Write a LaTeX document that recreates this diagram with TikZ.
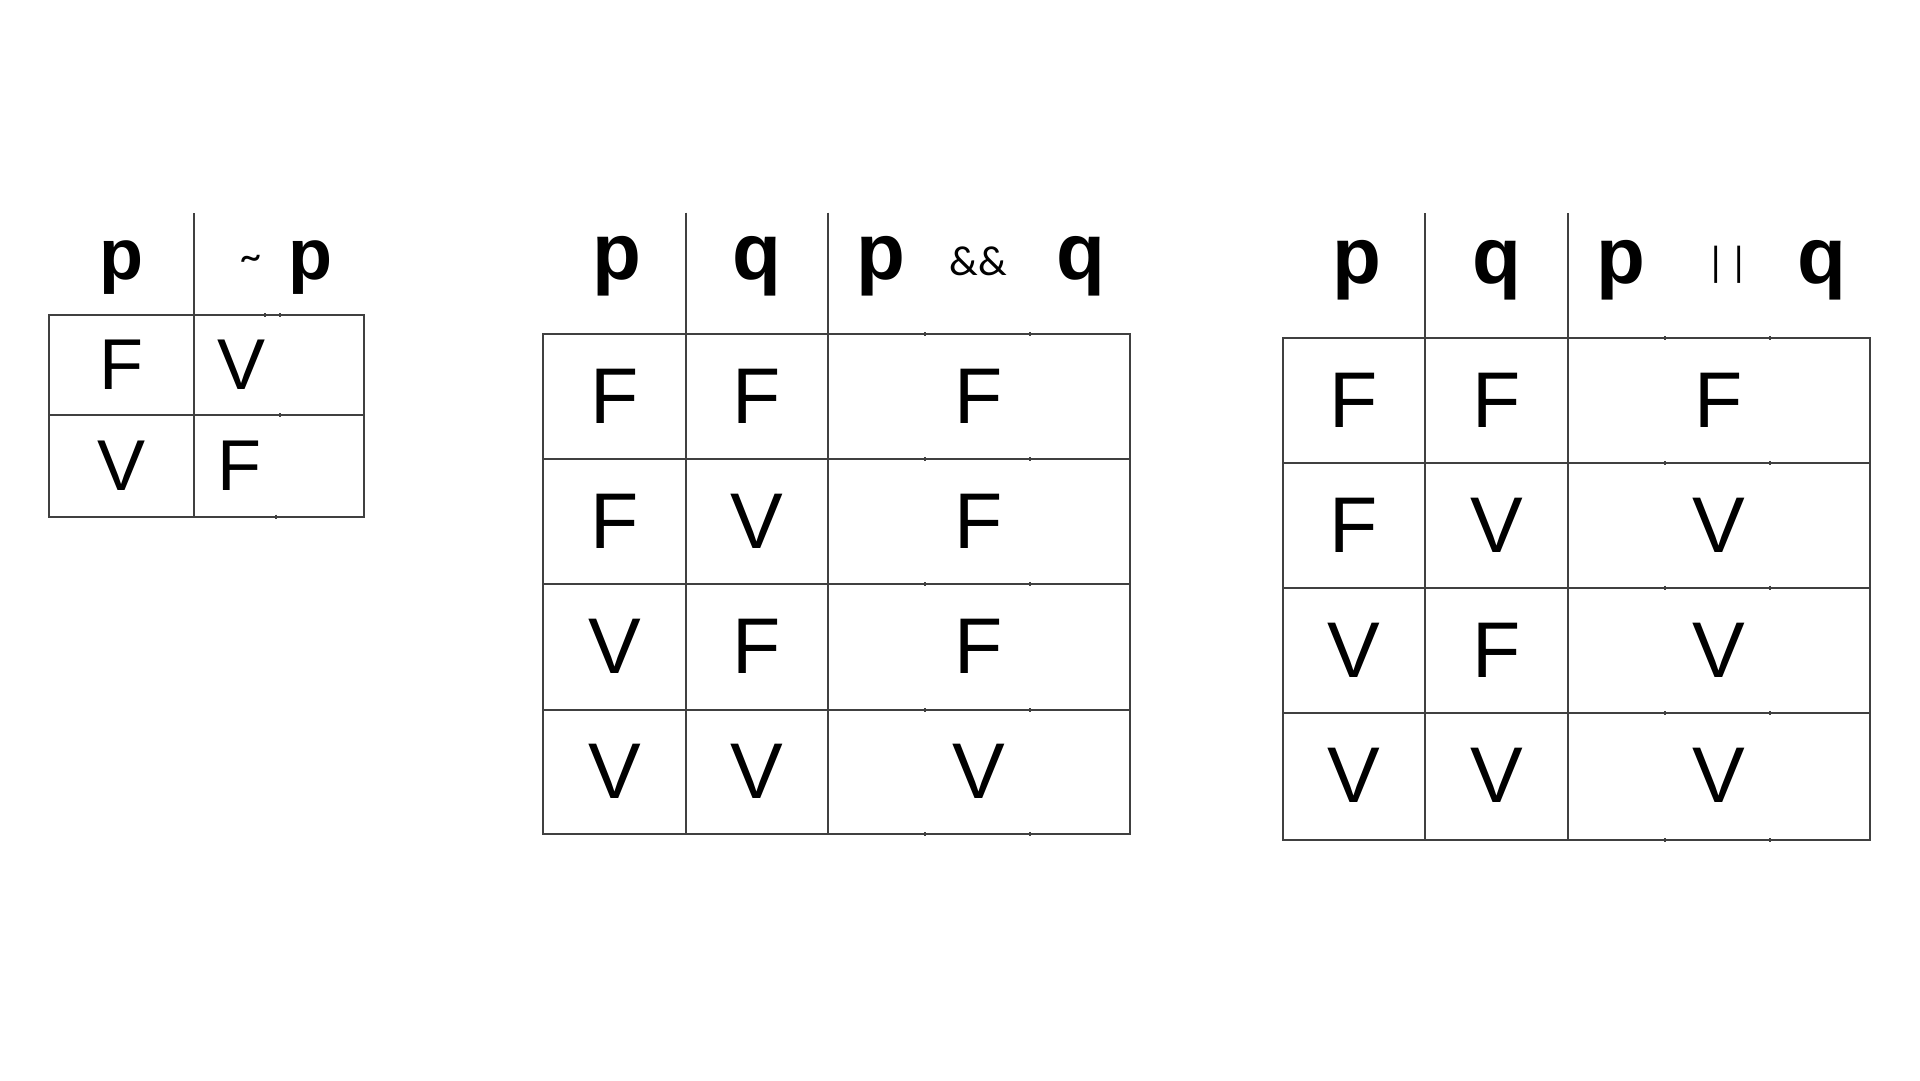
\documentclass[tikz,border=0pt]{standalone}
\usepackage{fontspec}
\setmainfont{Liberation Sans}
\newfontfamily\calfont{Carlito}
\usetikzlibrary{positioning}

\begin{document}
\begin{tikzpicture}[x=1pt,y=-1pt]
\tikzstyle{grid}=[draw=black!75, line width=2pt]
\tikzstyle{tick}=[draw=black!75, line width=1.5pt]
\tikzstyle{head}=[inner sep=0pt, anchor=base, font=\fontsize{80}{90}\selectfont\bfseries]
\tikzstyle{shead}=[head, font=\fontsize{72}{80}\selectfont\bfseries]
\tikzstyle{val}=[inner sep=0pt, font=\fontsize{79}{90}\selectfont]
\tikzstyle{sval}=[inner sep=0pt, font=\fontsize{72}{80}\selectfont]
\tikzstyle{op}=[inner sep=0pt, font=\fontsize{42}{48}\selectfont\calfont]
  \fill[white] (0,0) rectangle (1920,1080);
  \useasboundingbox (0,0) rectangle (1920,1080);

  % ~p
  \draw[grid] (194.3,213) -- (194.3,516.7);
  \draw[grid] (49.3,315) rectangle (364,516.7);
  \draw[grid] (49.3,415) -- (364,415);
  \draw[tick] (265,313) -- ++(0,4) (280,313) -- ++(0,4) (280,413) -- ++(0,4) (276,514.7) -- ++(0,4);
  \node[shead] (p1) at (121.8,279) {p};
  \node[op] (neg) at (250.8,262.5) {\textasciitilde};
  \node[shead] (np1) at (310,279) {p};
  \node[sval] (p11) at (121.8,365) {F};
  \node[sval, anchor=west] (n11) at (217,365) {V};
  \node[sval] (p12) at (121.8,465.5) {V};
  \node[sval, anchor=west] (n12) at (217,465.5) {F};

  % p && q
  \draw[grid] (685.7,212.7) -- (685.7,834);
  \draw[grid] (827.5,212.7) -- (827.5,834);
  \draw[grid] (543.3,334.3) rectangle (1130,834);
  \foreach \y in {459,584,710}
    \draw[grid] (543.3,\y) -- (1130,\y);
  \foreach \y in {334.3,459,584,710,834}
    \draw[tick] (925,\y-2) -- ++(0,4) (1030,\y-2) -- ++(0,4);
  \node[head] (p2) at (616.7,279) {p};
  \node[head] (q2) at (756.7,279) {q};
  \node[head] (pa) at (880.8,279) {p};
  \node[op] (and) at (978,261.7) {\&\&};
  \node[head] (qa) at (1081,279) {q};
  \foreach \a/\b/\c [count=\i] in {F/F/F,F/V/F,V/F/F,V/V/V}{
    \node[val] (p2\i) at (614.5,271.7+125*\i) {\a};
    \node[val] (q2\i) at (756.6,271.7+125*\i) {\b};
    \node[val] (and\i) at (978.7,271.7+125*\i) {\c};
  }

  % p || q
  \draw[grid] (1425,213.3) -- (1425,840);
  \draw[grid] (1568,213.3) -- (1568,840);
  \draw[grid] (1282.7,338.3) rectangle (1870,840);
  \foreach \y in {463.3,587.7,713.3}
    \draw[grid] (1282.7,\y) -- (1870,\y);
  \foreach \y in {338.3,463.3,587.7,713.3,840}
    \draw[tick] (1665,\y-2) -- ++(0,4) (1770,\y-2) -- ++(0,4);
  \node[head] (p3) at (1356.7,283) {p};
  \node[head] (q3) at (1496.7,283) {q};
  \node[head] (po) at (1620.8,283) {p};
  \node[op] (or) at (1728,264.7) {|\hspace{4pt}|};
  \node[head] (qo) at (1821.5,283) {q};
  \foreach \a/\b/\c [count=\i] in {F/F/F,F/V/V,V/F/V,V/V/V}{
    \node[val] (p3\i) at (1353.9,275.6+125*\i) {\a};
    \node[val] (q3\i) at (1496.5,275.6+125*\i) {\b};
    \node[val] (or\i) at (1719,275.6+125*\i) {\c};
  }
\end{tikzpicture}
\end{document}
